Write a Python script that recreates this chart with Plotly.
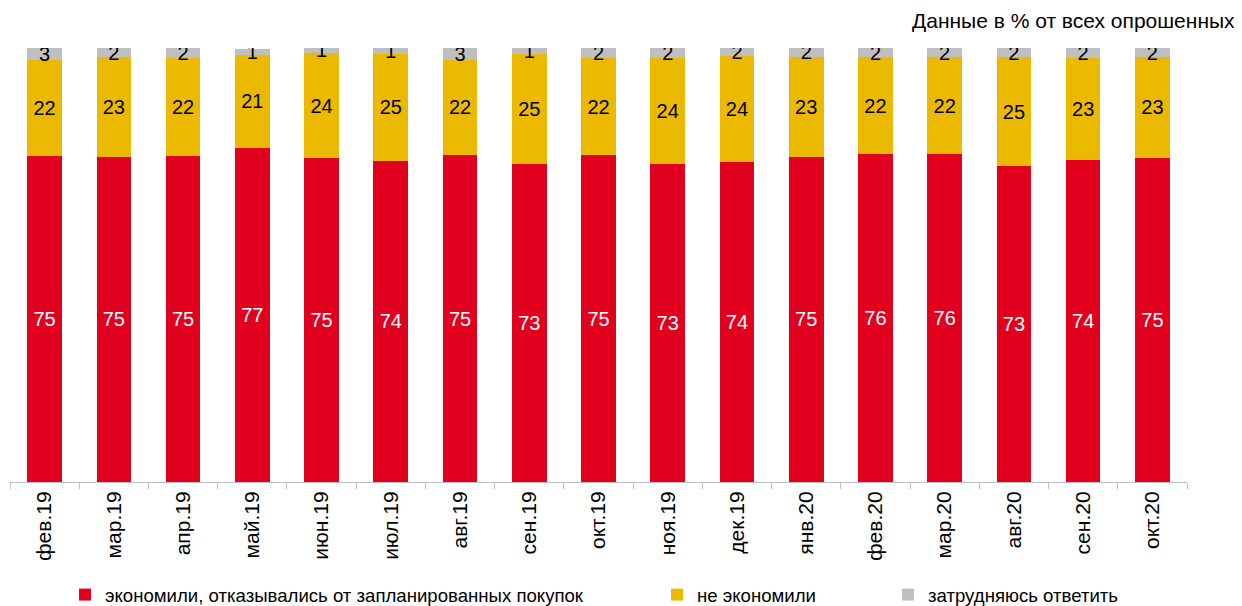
import plotly.graph_objects as go

months = ["фев.19", "мар.19", "апр.19", "май.19", "июн.19", "июл.19", "авг.19", "сен.19",
          "окт.19", "ноя.19", "дек.19", "янв.20", "фев.20", "мар.20", "авг.20", "сен.20", "окт.20"]

saved = [75.1, 75.0, 75.2, 77.0, 74.6, 74.0, 75.3, 73.3, 75.3, 73.2, 73.7, 75.0, 75.6, 75.6, 72.7, 74.2, 74.7]
not_saved = [22.2, 22.9, 22.4, 21.4, 24.3, 24.7, 22.0, 25.3, 22.4, 24.4, 24.4, 23.0, 22.3, 22.3, 25.2, 23.4, 23.2]
hard_to_say = [2.7, 2.1, 2.4, 1.4, 1.1, 1.3, 2.7, 1.4, 2.3, 2.4, 1.8, 2.0, 2.1, 2.1, 2.1, 2.4, 2.1]

names = ["экономили, отказывались от запланированных покупок", "не экономили", "затрудняюсь ответить"]
colors = ["#E2001F", "#EBBA00", "#BFBFBF"]
label_colors = ["white", "black", "black"]

FONT = "Liberation Sans"

fig = go.Figure()
for i, (vals, name, col, lc) in enumerate(zip([saved, not_saved, hard_to_say], names, colors, label_colors)):
    fig.add_trace(go.Bar(
        x=months, y=vals, name=name,
        marker=dict(color=col, line=dict(width=0)),
        texttemplate="%{y:.0f}", textposition="inside", insidetextanchor="middle",
        constraintext="none", textangle=0,
        textfont=dict(family=FONT, size=20, color=lc),
        legend="legend" if i == 0 else f"legend{i+1}",
        hoverinfo="skip",
    ))

# page body has an 8px margin, so the figure starts at (8, 8) in the window
OFF = 8
W, H = 1242 - OFF, 606 - OFF
L = 10 - OFF
T = 48 - OFF
B = H - (482 - OFF)
R = W - (1187 - OFF)
pw = W - L - R
ph = H - T - B

def px_x(px):
    return (px - OFF - L) / pw

def px_y(py):
    return (H - B - (py - OFF)) / ph

leg_common = dict(orientation="h", xanchor="left", yanchor="middle",
                  font=dict(family=FONT, size=18.6, color="black"),
                  bgcolor="rgba(0,0,0,0)", borderwidth=0, itemwidth=30)

fig.update_layout(
    width=W, height=H,
    margin=dict(l=L, r=R, t=T, b=B, autoexpand=False),
    paper_bgcolor="white", plot_bgcolor="white",
    barmode="stack", bargap=0.5,
    uniformtext=dict(minsize=20, mode="show"),
    font=dict(family=FONT, size=19, color="black"),
    showlegend=True,
    legend=dict(x=px_x(65), y=px_y(595), **leg_common),
    legend2=dict(x=px_x(657), y=px_y(595), **leg_common),
    legend3=dict(x=px_x(888), y=px_y(595), **leg_common),
    xaxis=dict(
        type="category", tickangle=-90, tickson="boundaries",
        ticks="outside", ticklen=6, tickcolor="#BFBFBF",
        showline=True, linecolor="#BFBFBF", linewidth=1,
        showgrid=False, tickfont=dict(family=FONT, size=21, color="black"),
    ),
    yaxis=dict(range=[0, 100], visible=False, showgrid=False, zeroline=False),
    annotations=[dict(
        text="Данные в % от всех опрошенных", xref="paper", yref="paper",
        x=px_x(1237), y=px_y(20), xanchor="right", yanchor="middle",
        showarrow=False, font=dict(family=FONT, size=21, color="black"),
    )],
)

fig.write_html("out.html")
